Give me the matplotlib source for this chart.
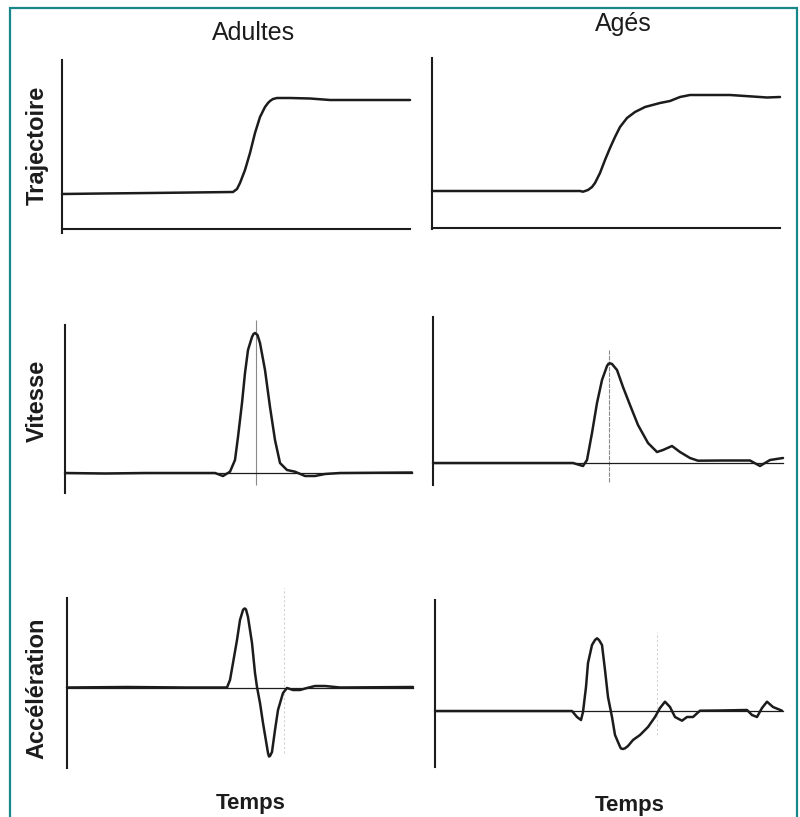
import matplotlib.pyplot as plt
from matplotlib.patches import Rectangle

# values: time and amplitude in pixel-like units from each panel's origin
traj_ad_t = [0, 40, 88, 130, 171, 175, 178, 183, 188, 193, 198, 203, 206, 208, 211, 215, 228, 248, 268, 300, 348]
traj_ad_y = [35, 35.5, 36, 36.5, 37, 40, 46, 59, 76, 96, 112, 122, 126, 128, 130, 131, 131, 130.5, 129, 129, 129]

traj_ag_t = [0, 60, 120, 148, 151, 156, 160, 163, 168, 173, 178, 183, 188, 195, 203, 213, 228, 238, 248, 258,
             298, 328, 335, 348]
traj_ag_y = [37, 37, 37, 37, 36.3, 38, 41, 45, 55, 68, 80, 91, 101, 110, 116, 121, 125, 127, 131, 133,
             133, 131, 130.5, 131]

vit_ad_t = [0, 40, 80, 120, 150, 158, 165, 170, 173, 177, 180, 183, 187, 188.5, 190, 192.5, 195, 200, 205, 210,
            215, 222, 230, 240, 250, 260, 275, 347]
vit_ad_y = [0, -0.5, 0, 0, 0, -3, 1.3, 13, 36, 70, 100, 123, 136, 139, 140, 138, 130, 103, 66, 33,
            10, 3, 1.3, -3, -3, -1, 0, 0.5]
vit_ad_peak = 191

vit_ag_t = [0, 50, 100, 140, 150, 154, 159, 164, 169, 174, 175.5, 177, 179, 184, 190, 197, 205, 215, 224, 230,
            239, 247, 257, 265, 290, 317, 327, 337, 350]
vit_ag_y = [0, 0, 0, 0, -3, 3, 30, 60, 83, 97, 99.3, 99.7, 99, 93, 76, 58, 38, 20, 11, 13,
            17, 11, 5, 2.3, 2.5, 2.5, -3, 3, 5]
vit_ag_peak = 176

acc_ad_t = [0, 60, 120, 160, 163, 166, 170, 173, 176, 177, 178, 179, 181, 185, 188, 190, 193, 196, 200, 201,
            202, 203, 205, 208, 211, 216, 220, 226, 233, 240, 248, 258, 273, 346]
acc_ad_y = [0, 0.5, 0, 0, 7.5, 24.5, 47.5, 67.5, 77.5, 78.7, 79, 78, 70.5, 44.5, 14.5, 0.5, -15.5, -35.5, -59.5, -65.5,
            -69, -68.5, -64.5, -42.5, -22.5, -5.5, -0.5, -2.5, -2.5, -0.5, 1.5, 1.5, 0, 0.5]
acc_ad_mark = 217

acc_ag_t = [0, 60, 120, 137, 142, 146, 148, 151, 153, 157, 160, 162, 164, 167, 170, 173, 177, 180, 185, 186,
            188, 190, 193, 198, 205, 213, 220, 225, 230, 235, 240, 247, 252, 258, 265, 285, 312, 317, 322,
            327, 332, 338, 347]
acc_ag_y = [0, 0, 0, 0, -6, -9, -1, 24, 48, 66, 71, 72.7, 71, 66, 41, 14, -6, -24, -35.7, -37.5,
            -38, -37.3, -35, -29, -24, -16, -6, 3, 9.3, 4, -6, -9.7, -6, -6, 0.3, 0.5, 1, -4, -6,
            3, 9.3, 4, 0.3]
acc_ag_mark = 222

col_titles = ["Adultes", "Agés"]
row_labels = ["Trajectoire", "Vitesse", "Accélération"]
x_label = "Temps"

W, H = 800, 817
INK = '#1c1c1c'
plt.rcParams['font.family'] = ['Liberation Sans', 'DejaVu Sans']
plt.rcParams['lines.solid_joinstyle'] = 'round'
plt.rcParams['lines.solid_capstyle'] = 'round'

fig = plt.figure(figsize=(W / 100, H / 100), dpi=100)


def make_panel(ox, oy, ylo, yhi, base_end, base_lw):
    # ox, oy = pixel position of the origin; data units are pixels
    xlo, xhi = -10, 360
    ax = fig.add_axes([(ox + xlo) / W, 1 - (oy - ylo) / H, (xhi - xlo) / W, (yhi - ylo) / H])
    ax.set_xlim(xlo, xhi)
    ax.set_ylim(ylo, yhi)
    ax.patch.set_alpha(0)
    ax.set_xticks([])
    ax.set_yticks([])
    for s in ['top', 'right']:
        ax.spines[s].set_visible(False)
    ax.spines['left'].set_position(('data', 0))
    ax.spines['left'].set_bounds(ylo, yhi)
    ax.spines['left'].set_linewidth(1.5)
    ax.spines['left'].set_color(INK)
    ax.spines['bottom'].set_position(('data', 0))
    ax.spines['bottom'].set_bounds(0, base_end)
    ax.spines['bottom'].set_linewidth(base_lw)
    ax.spines['bottom'].set_color(INK)
    return ax


# trajectoire
ax = make_panel(62, 229, -4, 169, 348, 1.5)
ax.plot(traj_ad_t, traj_ad_y, color=INK, lw=1.8)
ax = make_panel(432, 228, -1, 170, 348, 1.5)
ax.plot(traj_ag_t, traj_ag_y, color=INK, lw=1.8)

# vitesse
ax = make_panel(65, 473, -20, 148, 347, 0.9)
ax.vlines(vit_ad_peak, -12, 153, color='#8a8a8a', lw=0.8, clip_on=False)
ax.plot(vit_ad_t, vit_ad_y, color=INK, lw=1.8)
ax = make_panel(433, 463, -22, 146, 350, 0.9)
ax.vlines(vit_ag_peak, -19, 113, color='#8a8a8a', lw=0.8, linestyles=(0, (4, 1)))
ax.plot(vit_ag_t, vit_ag_y, color=INK, lw=1.8)

# accélération
ax = make_panel(67, 687.5, -80.5, 89.5, 346, 0.9)
ax.vlines(acc_ad_mark, -65, 100, color='#d2d2d2', lw=0.8, linestyles=(0, (2, 2)), clip_on=False)
ax.plot(acc_ad_t, acc_ad_y, color=INK, lw=1.8)
ax = make_panel(435, 711, -56, 111, 348, 0.9)
ax.vlines(acc_ag_mark, -24, 79, color='#d2d2d2', lw=0.8, linestyles=(0, (2, 2)))
ax.plot(acc_ag_t, acc_ag_y, color=INK, lw=1.8)

# texts
fig.text(254 / W, 1 - 33 / H, col_titles[0], ha='center', va='center', fontsize=18, color=INK)
fig.text(623 / W, 1 - 24 / H, col_titles[1], ha='center', va='center', fontsize=18, color=INK)
for lab, yp in zip(row_labels, [145, 401, 688]):
    fig.text(37 / W, 1 - yp / H, lab, rotation=90, ha='center', va='center',
             fontsize=17, fontweight='bold', color=INK)
fig.text(251 / W, 1 - 804 / H, x_label, ha='center', va='center', fontsize=16, fontweight='bold', color=INK)
fig.text(630 / W, 1 - 805 / H, x_label, ha='center', va='center', fontsize=16, fontweight='bold', color=INK)

# teal frame
fig.patches.append(Rectangle((10 / W, -0.05), 787 / W, 1.05 - 8 / H, transform=fig.transFigure,
                             fill=False, edgecolor='#17878a', lw=1.6))

plt.savefig('out.png', dpi=100)
